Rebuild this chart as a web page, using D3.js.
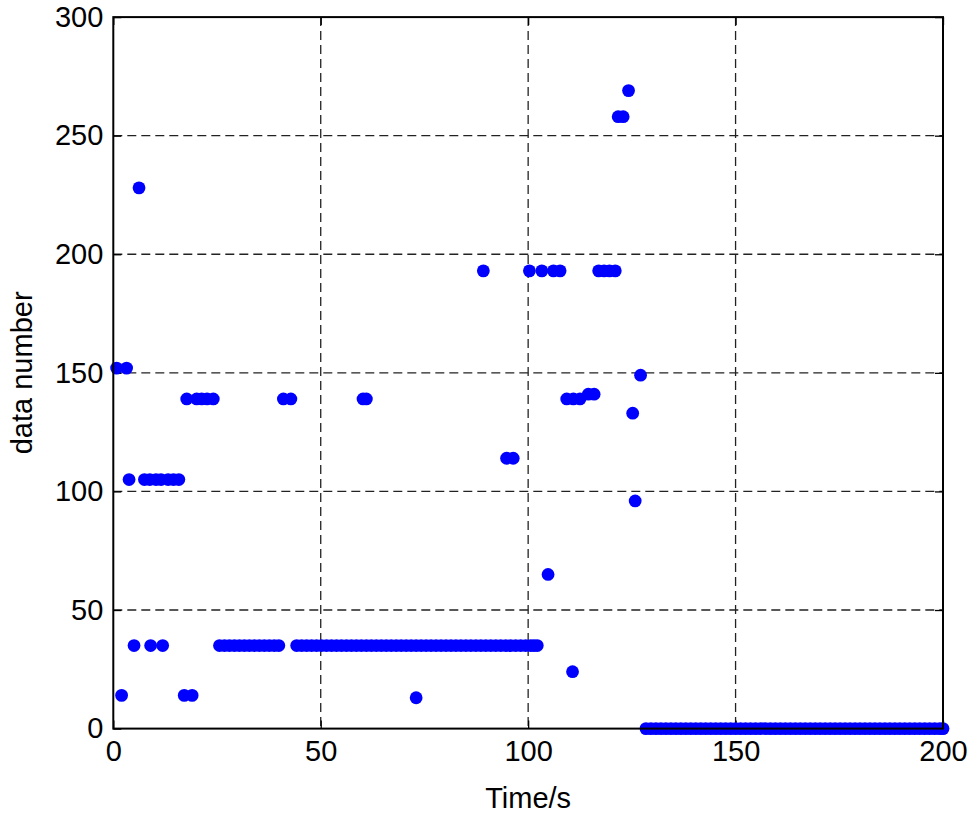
<!DOCTYPE html>
<html>
<head>
<meta charset="utf-8">
<script src="https://cdn.jsdelivr.net/npm/d3@7/dist/d3.min.js"></script>
<style>
  html, body { margin: 0; padding: 0; background: #fff; }
  svg { display: block; }
  text { font-family: "Liberation Sans", Arial, Helvetica, sans-serif; fill: #000; }
</style>
</head>
<body>
<svg id="chart" width="971" height="818"></svg>
<script>
// ---- data ----
const xTicks = [0, 50, 100, 150, 200];
const yTicks = [0, 50, 100, 150, 200, 250, 300];
const xLabel = "Time/s";
const yLabel = "data number";

// isolated / short-run points
const timeA = [0.8, 3.2, 2.0, 17.1, 19.0, 73.0,
               3.8, 7.5, 8.8, 10.3, 11.5, 13.2, 14.5, 15.8,
               5.0, 9.0, 11.9, 6.2,
               17.7, 20.1, 21.3, 22.6, 24.1, 41.0, 42.8, 60.2, 61.0,
               89.2, 100.3, 103.3, 106.1, 107.7, 117.0, 118.3, 119.6, 121.0,
               94.8, 96.4, 104.8, 110.7, 109.3, 110.9, 112.5, 114.5, 115.9,
               121.7, 122.9, 124.2, 125.2, 125.8, 127.1];
const valueA = [152, 152, 14, 14, 14, 13,
                105, 105, 105, 105, 105, 105, 105, 105,
                35, 35, 35, 228,
                139, 139, 139, 139, 139, 139, 139, 139, 139,
                193, 193, 193, 193, 193, 193, 193, 193, 193,
                114, 114, 65, 24, 139, 139, 139, 141, 141,
                258, 258, 269, 133, 96, 149];

// the long run at data number 35
const time35 = [25.6, 26.8, 28.0, 29.2, 30.4, 31.6, 32.8, 34.0, 35.2, 36.4, 37.6, 38.8, 39.9,
                44.2, 45.4, 46.6, 47.8, 49.0, 50.2, 51.4, 52.6, 53.8, 55.0, 56.2, 57.4, 58.6, 59.8,
                61.0, 62.2, 63.4, 64.6, 65.8, 67.0, 68.2, 69.4, 70.6, 71.8, 73.0, 74.2, 75.4,
                76.6, 77.8, 79.0, 80.2, 81.4, 82.6, 83.8, 85.0, 86.2, 87.4, 88.6, 89.8, 91.0,
                92.2, 93.4, 94.6, 95.8, 97.0, 98.2, 99.4, 100.6, 101.4, 102.2];
const level35 = 35;

// the long run at data number 0
const time0 = [128.4, 129.6, 130.8, 132.0, 133.2, 134.4, 135.6, 136.8, 138.0, 139.2,
               140.4, 141.6, 142.8, 144.0, 145.2, 146.4, 147.6, 148.8, 150.0, 151.2,
               152.4, 153.6, 154.8, 156.0, 157.2, 158.4, 159.6, 160.8, 162.0, 163.2,
               164.4, 165.6, 166.8, 168.0, 169.2, 170.4, 171.6, 172.8, 174.0, 175.2,
               176.4, 177.6, 178.8, 180.0, 181.2, 182.4, 183.6, 184.8, 186.0, 187.2,
               188.4, 189.6, 190.8, 192.0, 193.2, 194.4, 195.6, 196.8, 198.0, 199.2, 200.0];
const level0 = 0;

// ---- build points ----
const points = [];
timeA.forEach((t, i) => points.push({ t, v: valueA[i] }));
time35.forEach(t => points.push({ t, v: level35 }));
time0.forEach(t => points.push({ t, v: level0 }));

// ---- layout ----
const L = 113.3, R = 943, T = 17.1, B = 728.6;
const svg = d3.select("#chart");
svg.append("rect").attr("width", 971).attr("height", 818).attr("fill", "#fff");

const x = d3.scaleLinear().domain([0, 200]).range([L, R]);
const y = d3.scaleLinear().domain([0, 300]).range([B, T]);

// grid (dashed)
const grid = svg.append("g");
grid.selectAll("line.gx").data(xTicks.filter(d => d > 0 && d < 200)).enter()
  .append("line")
  .attr("x1", d => x(d)).attr("x2", d => x(d))
  .attr("y1", T).attr("y2", B)
  .attr("stroke", "#222").attr("stroke-width", 1.3)
  .attr("stroke-dasharray", "9,5");
grid.selectAll("line.gy").data(yTicks.filter(d => d > 0 && d < 300)).enter()
  .append("line")
  .attr("x1", L).attr("x2", R)
  .attr("y1", d => y(d)).attr("y2", d => y(d))
  .attr("stroke", "#222").attr("stroke-width", 1.3)
  .attr("stroke-dasharray", "9,5");

// axes via d3 (ticks inward)
const fontSize = 29;
const xAxis = d3.axisBottom(x).tickValues(xTicks).tickSize(-8).tickPadding(18).tickFormat(d3.format("d"));
const yAxis = d3.axisLeft(y).tickValues(yTicks).tickSize(-8).tickPadding(18).tickFormat(d3.format("d"));

const gx = svg.append("g").attr("transform", `translate(0,${B})`).call(xAxis);
const gy = svg.append("g").attr("transform", `translate(${L},0)`).call(yAxis);
[gx, gy].forEach(g => {
  g.select(".domain").remove();
  g.selectAll(".tick line").attr("stroke", "#000").attr("stroke-width", 1.3);
  g.selectAll(".tick text")
    .style("font-family", '"Liberation Sans", Arial, Helvetica, sans-serif')
    .style("font-size", fontSize + "px").attr("fill", "#000");
});
gy.selectAll(".tick text").attr("x", -10);
gx.selectAll(".tick text").attr("y", 12);

// top/right inward ticks
const gxt = svg.append("g").attr("transform", `translate(0,${T})`)
  .call(d3.axisTop(x).tickValues(xTicks).tickSize(-8).tickFormat(""));
const gyr = svg.append("g").attr("transform", `translate(${R},0)`)
  .call(d3.axisRight(y).tickValues(yTicks).tickSize(-8).tickFormat(""));
[gxt, gyr].forEach(g => {
  g.select(".domain").remove();
  g.selectAll(".tick line").attr("stroke", "#000").attr("stroke-width", 1.3);
});

// points
svg.append("g").selectAll("circle").data(points).enter()
  .append("circle")
  .attr("cx", d => x(d.t))
  .attr("cy", d => y(d.v))
  .attr("r", 6.4)
  .attr("fill", "#0000ff");

// frame
svg.append("rect")
  .attr("x", L).attr("y", T).attr("width", R - L).attr("height", B - T)
  .attr("fill", "none").attr("stroke", "#000").attr("stroke-width", 2);

// axis labels
svg.append("text")
  .attr("x", (L + R) / 2).attr("y", 808)
  .attr("text-anchor", "middle")
  .style("font-size", fontSize + "px")
  .text(xLabel);
svg.append("text")
  .attr("transform", `translate(32,${(T + B) / 2}) rotate(-90)`)
  .attr("text-anchor", "middle")
  .style("font-size", fontSize + "px")
  .text(yLabel);
</script>
</body>
</html>
